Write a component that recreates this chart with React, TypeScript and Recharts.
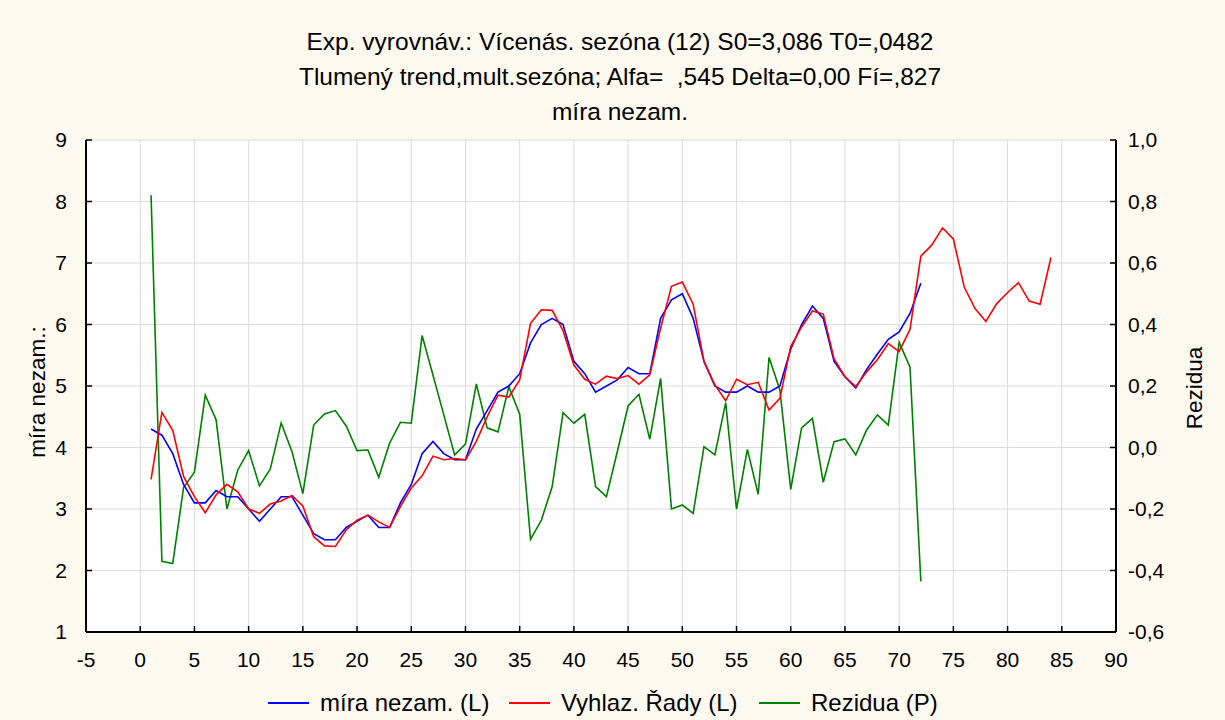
import React from 'react';
import { LineChart, Line, XAxis, YAxis, CartesianGrid } from 'recharts';

// Period index 1..84
const periods: number[] = [
  1, 2, 3, 4, 5, 6, 7, 8, 9, 10, 11, 12, 13, 14, 15, 16, 17, 18, 19, 20,
  21, 22, 23, 24, 25, 26, 27, 28, 29, 30, 31, 32, 33, 34, 35, 36, 37, 38, 39, 40,
  41, 42, 43, 44, 45, 46, 47, 48, 49, 50, 51, 52, 53, 54, 55, 56, 57, 58, 59, 60,
  61, 62, 63, 64, 65, 66, 67, 68, 69, 70, 71, 72, 73, 74, 75, 76, 77, 78, 79, 80,
  81, 82, 83, 84,
];

// míra nezam. (L)
const unemployment: number[] = [
  4.3, 4.2, 3.9, 3.4, 3.1, 3.1, 3.3, 3.2, 3.2, 3.0,
  2.8, 3.0, 3.2, 3.2, 2.9, 2.6, 2.5, 2.5, 2.7, 2.8,
  2.9, 2.7, 2.7, 3.1, 3.4, 3.9, 4.1, 3.9, 3.8, 3.8,
  4.3, 4.6, 4.9, 5.0, 5.2, 5.7, 6.0, 6.1, 6.0, 5.4,
  5.2, 4.9, 5.0, 5.1, 5.3, 5.2, 5.2, 6.1, 6.4, 6.5,
  6.1, 5.4, 5.0, 4.9, 4.9, 5.0, 4.9, 4.9, 5.0, 5.6,
  6.0, 6.3, 6.1, 5.4, 5.15, 4.97, 5.27, 5.52, 5.76, 5.88,
  6.18, 6.67,
];

// Vyhlaz. Řady (L)
const smoothed: number[] = [
  3.48, 4.57, 4.28, 3.53, 3.2, 2.94, 3.23, 3.4, 3.28, 3.0,
  2.93, 3.08, 3.13, 3.22, 3.05, 2.55, 2.4, 2.39, 2.66, 2.82,
  2.9, 2.79, 2.7, 3.04, 3.34, 3.54, 3.86, 3.8, 3.82, 3.8,
  4.1, 4.5, 4.85, 4.82, 5.1, 6.02, 6.24, 6.23, 5.9, 5.34,
  5.11, 5.03, 5.16, 5.12, 5.17, 5.03, 5.18, 5.94, 6.62, 6.69,
  6.33, 5.4, 5.02, 4.76, 5.11, 5.02, 5.06, 4.61, 4.8, 5.64,
  5.96, 6.22, 6.17, 5.44, 5.15, 4.99, 5.23, 5.43, 5.69, 5.56,
  5.92, 7.11, 7.29, 7.57, 7.39, 6.61, 6.26, 6.05, 6.34, 6.52,
  6.68, 6.38, 6.33, 7.09,
];

// Rezidua (P)
const residuals: number[] = [
  0.82, -0.37, -0.377, -0.13, -0.08, 0.17, 0.09, -0.2, -0.073, -0.01,
  -0.125, -0.07, 0.08, -0.014, -0.15, 0.073, 0.109, 0.12, 0.07, -0.01,
  -0.008, -0.097, 0.014, 0.082, 0.079, 0.364, 0.236, 0.106, -0.024, 0.011,
  0.207, 0.064, 0.051, 0.198, 0.108, -0.299, -0.236, -0.127, 0.113, 0.079,
  0.108, -0.127, -0.16, -0.014, 0.135, 0.173, 0.027, 0.225, -0.2, -0.187,
  -0.214, 0.003, -0.024, 0.146, -0.2, -0.006, -0.152, 0.293, 0.187, -0.136,
  0.064, 0.095, -0.113, 0.019, 0.028, -0.024, 0.057, 0.106, 0.073, 0.342,
  0.261, -0.436,
];

const xTicks: number[] = [-5, 0, 5, 10, 15, 20, 25, 30, 35, 40, 45, 50, 55, 60, 65, 70, 75, 80, 85, 90];
const leftTicks: number[] = [1, 2, 3, 4, 5, 6, 7, 8, 9];
const rightTicks: number[] = [-0.6, -0.4, -0.2, 0, 0.2, 0.4, 0.6, 0.8, 1.0];

const titleLines: string[] = [
  'Exp. vyrovnáv.: Vícenás. sezóna (12) S0=3,086 T0=,0482',
  'Tlumený trend,mult.sezóna; Alfa=  ,545 Delta=0,00 Fí=,827',
  'míra nezam.',
];
const leftAxisTitle = 'míra nezam.:';
const rightAxisTitle = 'Rezidua';
const seriesNames: string[] = ['míra nezam. (L)', 'Vyhlaz. Řady (L)', 'Rezidua (P)'];
const seriesColors: string[] = ['#0000ff', '#ff0000', '#008000'];

const data = periods.map((t, i) => ({
  t,
  actual: i < unemployment.length ? unemployment[i] : undefined,
  fitted: i < smoothed.length ? smoothed[i] : undefined,
  resid: i < residuals.length ? residuals[i] : undefined,
}));

const FONT = '"Liberation Sans", Arial, sans-serif';
const BG = '#fffaf0';

const commaFmt = (v: number) => v.toFixed(1).replace('.', ',');

export default function App() {
  const tickStyle = { fontSize: 21, fill: '#000', fontFamily: FONT };
  const legendX = [268, 509, 759];
  return (
    <div
      style={{
        position: 'absolute',
        left: 0,
        top: 0,
        width: 1225,
        height: 720,
        background: BG,
        fontFamily: FONT,
      }}
    >
      <LineChart
        width={1225}
        height={720}
        data={data}
        margin={{ top: 140, right: 49, bottom: 48, left: 26 }}
      >
        <CartesianGrid
          xAxisId="bottom"
          yAxisId="left"
          stroke="#dcdcdc"
          strokeWidth={1}
          fill="#ffffff"
          fillOpacity={1}
        />
        <XAxis
          xAxisId="bottom"
          dataKey="t"
          type="number"
          domain={[-5, 90]}
          ticks={xTicks}
          allowDataOverflow
          height={40}
          tick={tickStyle}
          tickSize={-6}
          tickMargin={26}
          axisLine={{ stroke: '#000', strokeWidth: 2 }}
          tickLine={{ stroke: '#000', strokeWidth: 1.5 }}
          interval={0}
        />
        <XAxis
          xAxisId="top"
          orientation="top"
          dataKey="t"
          type="number"
          domain={[-5, 90]}
          ticks={xTicks}
          allowDataOverflow
          height={0}
          tick={false}
          tickSize={-6}
          axisLine={{ stroke: '#000', strokeWidth: 2 }}
          tickLine={{ stroke: '#000', strokeWidth: 1.5 }}
          interval={0}
        />
        <YAxis
          yAxisId="left"
          orientation="left"
          type="number"
          domain={[1, 9]}
          ticks={leftTicks}
          allowDataOverflow
          width={60}
          tick={tickStyle}
          tickSize={-6}
          tickMargin={25}
          axisLine={{ stroke: '#000', strokeWidth: 2 }}
          tickLine={{ stroke: '#000', strokeWidth: 1.5 }}
          interval={0}
        />
        <YAxis
          yAxisId="right"
          orientation="right"
          type="number"
          domain={[-0.6, 1.0]}
          ticks={rightTicks}
          allowDataOverflow
          width={60}
          tick={tickStyle}
          tickFormatter={commaFmt}
          tickSize={-6}
          tickMargin={18}
          axisLine={{ stroke: '#000', strokeWidth: 2 }}
          tickLine={{ stroke: '#000', strokeWidth: 1.5 }}
          interval={0}
        />
        <Line
          xAxisId="bottom"
          yAxisId="right"
          dataKey="resid"
          name={seriesNames[2]}
          type="linear"
          stroke={seriesColors[2]}
          strokeWidth={1.6}
          dot={false}
          isAnimationActive={false}
        />
        <Line
          xAxisId="bottom"
          yAxisId="left"
          dataKey="actual"
          name={seriesNames[0]}
          type="linear"
          stroke={seriesColors[0]}
          strokeWidth={1.6}
          dot={false}
          isAnimationActive={false}
        />
        <Line
          xAxisId="bottom"
          yAxisId="left"
          dataKey="fitted"
          name={seriesNames[1]}
          type="linear"
          stroke={seriesColors[1]}
          strokeWidth={1.6}
          dot={false}
          isAnimationActive={false}
        />
      </LineChart>
      <svg
        width={1225}
        height={720}
        style={{ position: 'absolute', left: 0, top: 0, pointerEvents: 'none' }}
      >
        {titleLines.map((line, i) => (
          <text
            key={i}
            x={620}
            y={50 + i * 35}
            textAnchor="middle"
            fontSize={24.5}
            fontFamily={FONT}
            fill="#000"
            style={{ whiteSpace: 'pre' }}
            xmlSpace="preserve"
          >
            {line}
          </text>
        ))}
        <text
          x={45}
          y={392}
          transform="rotate(-90, 45, 392)"
          textAnchor="middle"
          fontSize={22.5}
          fontFamily={FONT}
          fill="#000"
        >
          {leftAxisTitle}
        </text>
        <text
          x={1202}
          y={388}
          transform="rotate(-90, 1202, 388)"
          textAnchor="middle"
          fontSize={22.5}
          fontFamily={FONT}
          fill="#000"
        >
          {rightAxisTitle}
        </text>
        {seriesNames.map((name, i) => (
          <g key={name}>
            <line
              x1={legendX[i]}
              x2={legendX[i] + 41}
              y1={703}
              y2={703}
              stroke={seriesColors[i]}
              strokeWidth={2}
            />
            <text
              x={legendX[i] + 52}
              y={711}
              fontSize={24}
              fontFamily={FONT}
              fill="#000"
            >
              {name}
            </text>
          </g>
        ))}
      </svg>
    </div>
  );
}
